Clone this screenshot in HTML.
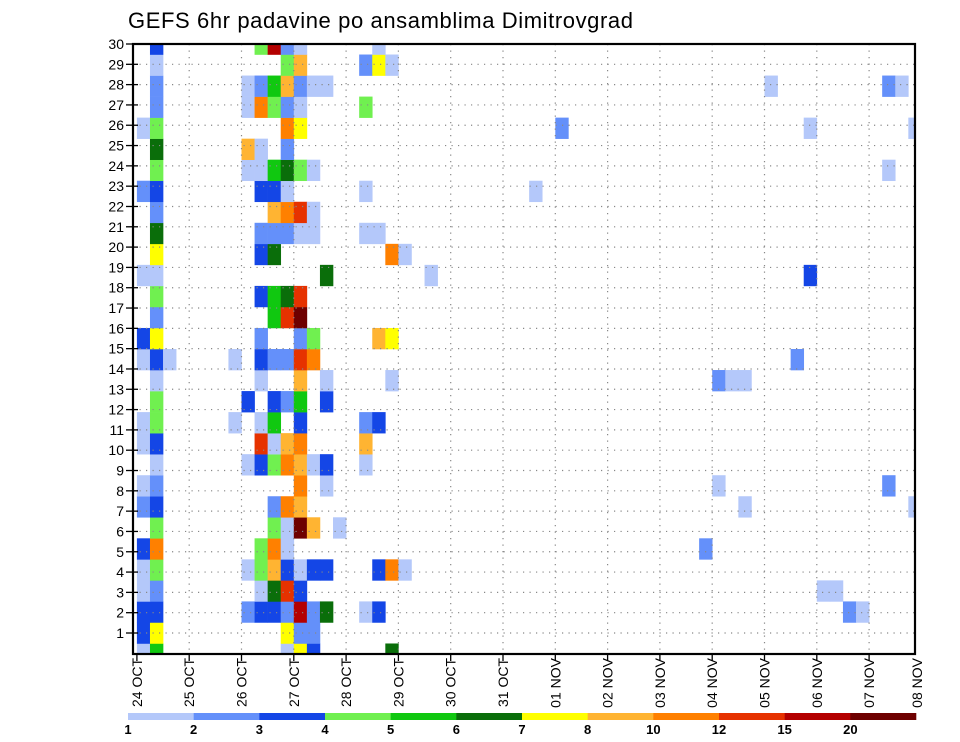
<!DOCTYPE html>
<html><head><meta charset="utf-8"><style>
html,body{margin:0;padding:0;background:#fff;}
svg{display:block;font-family:"Liberation Sans",sans-serif;}
</style></head><body>
<svg id="chart" width="960" height="742" viewBox="0 0 960 742" xmlns="http://www.w3.org/2000/svg">
<text x="128" y="28" font-size="22" textLength="505" fill="#000">GEFS 6hr padavine po ansamblima Dimitrovgrad</text>
<g id="cells"></g><g id="grid"></g><g id="axes"></g><g id="legend"></g>
</svg>
<script>
// ---- data ----
const dayLabels = ["24 OCT","25 OCT","26 OCT","27 OCT","28 OCT","29 OCT","30 OCT","31 OCT","01 NOV","02 NOV","03 NOV","04 NOV","05 NOV","06 NOV","07 NOV","08 NOV"];
const memberLabels = [1,2,3,4,5,6,7,8,9,10,11,12,13,14,15,16,17,18,19,20,21,22,23,24,25,26,27,28,29,30];
const levels = [1,2,3,4,5,6,7,8,10,12,15,20];
const levelColors = ["#b4c8fa","#6490fa","#1446e6","#70f050","#10c810","#0a6e0a","#ffff00","#ffb432","#ff8000","#e63200","#b40000","#6e0000"];
// precipitation per member row (row 0 = bottom): [6h step, mm]
const m0 = [[0,1.5],[1,5.5],[11,1.5],[12,7.5],[13,3.5],[19,6.5]];
const m1 = [[0,3.5],[1,7.5],[11,7.5],[12,2.5],[13,2.5]];
const m2 = [[0,3.5],[1,3.5],[8,2.5],[9,3.5],[10,3.5],[11,2.5],[12,17],[13,2.5],[14,6.5],[17,1.5],[18,3.5],[54,2.5],[55,1.5]];
const m3 = [[0,1.5],[1,2.5],[9,1.5],[10,6.5],[11,13],[12,3.5],[52,1.5],[53,1.5]];
const m4 = [[0,1.5],[1,4.5],[8,1.5],[9,4.5],[10,9],[11,3.5],[12,1.5],[13,3.5],[14,3.5],[18,3.5],[19,11],[20,1.5]];
const m5 = [[0,3.5],[1,11],[9,4.5],[10,11],[11,1.5],[43,2.5]];
const m6 = [[1,4.5],[10,4.5],[11,1.5],[12,22],[13,9],[15,1.5]];
const m7 = [[0,2.5],[1,3.5],[10,2.5],[11,11],[12,9],[46,1.5],[59,1.5]];
const m8 = [[0,1.5],[1,2.5],[12,11],[14,1.5],[44,1.5],[57,2.5]];
const m9 = [[1,1.5],[8,1.5],[9,3.5],[10,4.5],[11,11],[12,9],[13,1.5],[14,3.5],[17,1.5]];
const m10 = [[0,1.5],[1,3.5],[9,13],[10,1.5],[11,9],[12,11],[17,9]];
const m11 = [[0,1.5],[1,4.5],[7,1.5],[9,1.5],[10,5.5],[12,3.5],[17,2.5],[18,3.5]];
const m12 = [[1,4.5],[8,3.5],[10,3.5],[11,2.5],[12,5.5],[14,3.5]];
const m13 = [[1,1.5],[9,1.5],[12,9],[14,1.5],[19,1.5],[44,2.5],[45,1.5],[46,1.5]];
const m14 = [[0,1.5],[1,3.5],[2,1.5],[7,1.5],[9,3.5],[10,2.5],[11,2.5],[12,13],[13,11],[50,2.5]];
const m15 = [[0,3.5],[1,7.5],[9,2.5],[12,2.5],[13,4.5],[18,9],[19,7.5]];
const m16 = [[1,2.5],[10,5.5],[11,13],[12,22]];
const m17 = [[1,4.5],[9,3.5],[10,5.5],[11,6.5],[12,13]];
const m18 = [[0,1.5],[1,1.5],[14,6.5],[22,1.5],[51,3.5]];
const m19 = [[1,7.5],[9,3.5],[10,6.5],[19,11],[20,1.5]];
const m20 = [[1,6.5],[9,2.5],[10,2.5],[11,2.5],[12,1.5],[13,1.5],[17,1.5],[18,1.5]];
const m21 = [[1,2.5],[10,9],[11,11],[12,13],[13,1.5]];
const m22 = [[0,2.5],[1,3.5],[9,3.5],[10,3.5],[11,1.5],[17,1.5],[30,1.5]];
const m23 = [[1,4.5],[8,1.5],[9,1.5],[10,5.5],[11,6.5],[12,4.5],[13,1.5],[57,1.5]];
const m24 = [[1,6.5],[8,9],[9,1.5],[11,2.5]];
const m25 = [[0,1.5],[1,4.5],[11,11],[12,7.5],[32,2.5],[51,1.5],[59,1.5]];
const m26 = [[1,2.5],[8,1.5],[9,11],[10,4.5],[11,2.5],[12,1.5],[17,4.5]];
const m27 = [[1,2.5],[8,1.5],[9,2.5],[10,5.5],[11,9],[12,2.5],[13,1.5],[14,1.5],[48,1.5],[57,2.5],[58,1.5]];
const m28 = [[1,1.5],[11,4.5],[12,9],[17,2.5],[18,7.5],[19,1.5]];
const m29 = [[1,3.5],[9,4.5],[10,17],[11,2.5],[12,1.5],[18,1.5]];
const members = [m0,m1,m2,m3,m4,m5,m6,m7,m8,m9,m10,m11,m12,m13,m14,m15,m16,m17,m18,m19,m20,m21,m22,m23,m24,m25,m26,m27,m28,m29];

// ---- geometry ----
const L=133, R=915, T=44, B=654;
const X0=136.9, DAY=52.3, STEP=DAY/4;
const ROWH=(B-T)/29;
const xStep = s => X0 + s*STEP;
const xDay = d => X0 + d*DAY;
const yRow = j => B - j*ROWH;
const yLab = m => T + (30-m)*((633-44)/29);
const NS="http://www.w3.org/2000/svg";
function mk(tag, attrs, parent){const e=document.createElementNS(NS,tag);for(const k in attrs)e.setAttribute(k,attrs[k]);parent.appendChild(e);return e;}
function colorFor(v){let c=null;for(let i=0;i<levels.length;i++){if(v>=levels[i])c=levelColors[i];}return c;}

const cells=document.getElementById('cells');
members.forEach((row,j)=>{
  row.forEach(([s,v])=>{
    const col=colorFor(v); if(!col) return;
    let x=xStep(s), w=STEP, y=yRow(j)-ROWH/2, h=ROWH;
    if(y<T){h-=T-y;y=T;} if(y+h>B){h=B-y;} if(x+w>R){w=R-x;} if(w<=0)return;
    const r=mk('rect',{x:x.toFixed(2),y:y.toFixed(2),width:(w+0.3).toFixed(2),height:(h+0.3).toFixed(2),fill:col},cells);
    
    
  });
});

const grid=document.getElementById('grid');
memberLabels.forEach(m=>{
  const y=yLab(m);
  const l=mk('line',{x1:L,x2:R,y1:y,y2:y,stroke:'#888','stroke-width':1.2,'stroke-dasharray':'1.2 5.3'},grid);
  
  
});
dayLabels.forEach((d,i)=>{
  const x=xDay(i); if(i===0||x>R)return;
  const l=mk('line',{x1:x,x2:x,y1:T,y2:B,stroke:'#888','stroke-width':1.2,'stroke-dasharray':'1.2 5.3'},grid);
  
  
});

const axes=document.getElementById('axes');
const fr=mk('rect',{x:L,y:T,width:R-L,height:B-T,fill:'none',stroke:'#000','stroke-width':2.2},axes);


memberLabels.forEach(m=>{
  const y=yLab(m);
  mk('line',{x1:126,x2:L+5,y1:y,y2:y,stroke:'#000','stroke-width':1.3},axes);
  const t=mk('text',{x:124,y:y+5,'font-size':14,'text-anchor':'end',fill:'#000'},axes);
  t.textContent=m;
  
  
});
dayLabels.forEach((d,i)=>{
  let x=xDay(i);
  if(x<=R) mk('line',{x1:x,x2:x,y1:B,y2:B+7,stroke:'#000','stroke-width':1.3},axes);
  if(x>R) x=917;
  const t=mk('text',{transform:`translate(${(x+5).toFixed(1)},658) rotate(-90)`,'font-size':14,'text-anchor':'end',fill:'#000'},axes);
  t.textContent=d;
  
  
});

const legend=document.getElementById('legend');
const LX0=128, LX1=916, segW=(LX1-LX0)/levels.length;
levels.forEach((lv,i)=>{
  const r=mk('rect',{x:(LX0+i*segW).toFixed(2),y:713,width:(segW+0.3).toFixed(2),height:7,fill:levelColors[i]},legend);
  
  
  const t=mk('text',{x:(LX0+i*segW).toFixed(2),y:734,'font-size':13,'font-weight':'bold','text-anchor':'middle',fill:'#000'},legend);
  t.textContent=lv;
  
  
});
</script>
</body></html>
